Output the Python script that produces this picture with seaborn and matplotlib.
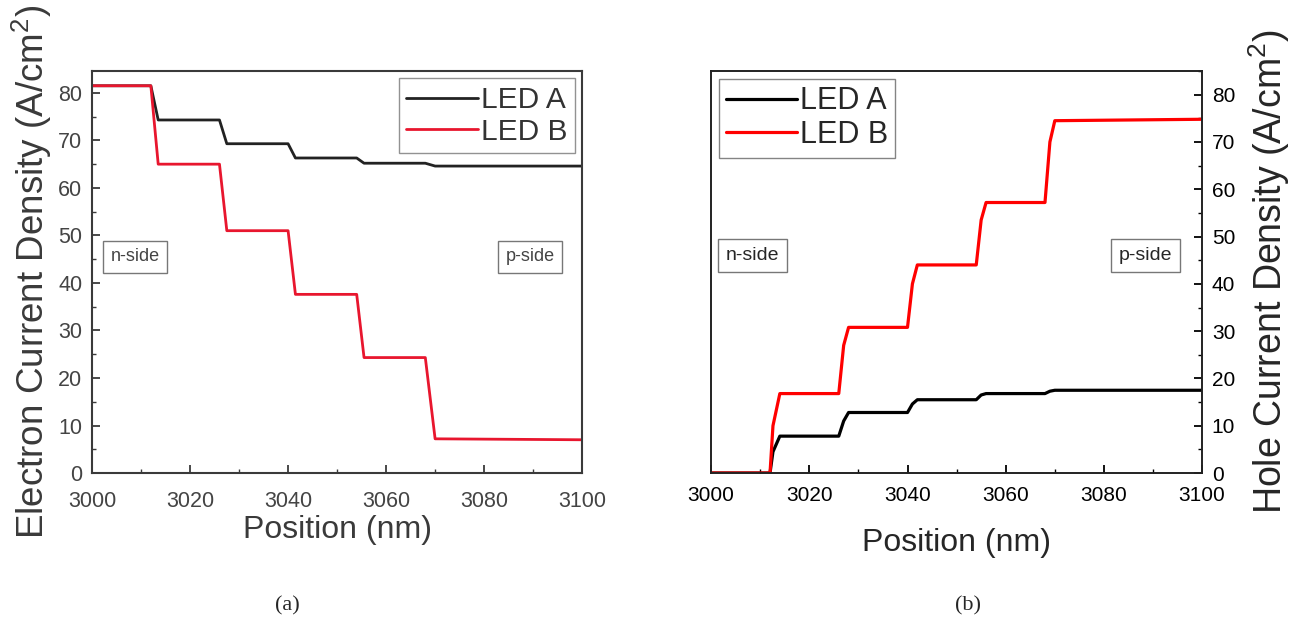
import matplotlib
matplotlib.use("Agg")
import matplotlib.pyplot as plt
from matplotlib.ticker import MultipleLocator
import pandas as pd
import seaborn as sns

# corner points (position in nm)
pos_e = [3000, 3012, 3013.5, 3026, 3027.5, 3040, 3041.5, 3054, 3055.5, 3068, 3070, 3100]
elec_a = [81.5, 81.5, 74.3, 74.3, 69.3, 69.3, 66.3, 66.3, 65.2, 65.2, 64.6, 64.6]
elec_b = [81.5, 81.5, 65.0, 65.0, 51.0, 51.0, 37.6, 37.6, 24.3, 24.3, 7.2, 7.0]

pos_h = [3000, 3012, 3012.6, 3014, 3026, 3027, 3028, 3040, 3041, 3042, 3054, 3055, 3056, 3068, 3069, 3070, 3100]
hole_a = [0, 0, 4.5, 7.8, 7.8, 11.0, 12.8, 12.8, 14.6, 15.5, 15.5, 16.5, 16.8, 16.8, 17.3, 17.5, 17.5]
hole_b = [0, 0, 10.0, 16.8, 16.8, 27.0, 30.8, 30.8, 40.0, 44.0, 44.0, 53.5, 57.2, 57.2, 70.0, 74.5, 74.8]

leds = ["LED A", "LED B"]

df_e = pd.concat([
    pd.DataFrame({"Position": pos_e, "J": elec_a, "LED": leds[0]}),
    pd.DataFrame({"Position": pos_e, "J": elec_b, "LED": leds[1]}),
])
df_h = pd.concat([
    pd.DataFrame({"Position": pos_h, "J": hole_a, "LED": leds[0]}),
    pd.DataFrame({"Position": pos_h, "J": hole_b, "LED": leds[1]}),
])

sns.set_theme(style="ticks")
plt.rcParams["font.family"] = ["Liberation Sans", "DejaVu Sans"]
plt.rcParams["mathtext.fontset"] = "custom"
plt.rcParams["mathtext.rm"] = "Liberation Sans"
plt.rcParams["mathtext.default"] = "regular"

fig = plt.figure(figsize=(13, 6.22), dpi=100)
ax1 = fig.add_axes([0.0708, 0.2395, 0.377, 0.6463])
ax2 = fig.add_axes([0.547, 0.2395, 0.3777, 0.6463])

# (a) electron current
grey = "#3a3a3a"
sns.lineplot(data=df_e, x="Position", y="J", hue="LED", palette=["#222222", "#e8162e"],
             estimator=None, sort=False, lw=2.0, ax=ax1)
ax1.set_xlim(3000, 3100)
ax1.set_ylim(0, 84.6)
ax1.xaxis.set_major_locator(MultipleLocator(20))
ax1.xaxis.set_minor_locator(MultipleLocator(10))
ax1.yaxis.set_major_locator(MultipleLocator(10))
ax1.yaxis.set_minor_locator(MultipleLocator(5))
ax1.tick_params(which="both", direction="in", top=False, right=False, colors=grey,
                labelsize=15.5, labelcolor="#444444")
ax1.tick_params(which="major", length=6, width=1.3, pad=7)
ax1.tick_params(axis="x", which="major", pad=13)
ax1.tick_params(which="minor", length=3, width=1.0)
for s in ax1.spines.values():
    s.set_color(grey)
    s.set_linewidth(1.5)
ax1.set_xlabel("Position (nm)", fontsize=23, color=grey, labelpad=2)
ax1.set_ylabel("Electron Current Density (A/cm$^2$)", fontsize=26.5, color=grey, labelpad=3)
leg1 = ax1.legend(loc="upper right", fontsize=21.5, handlelength=2.4, handletextpad=0.1,
                  borderpad=0.25, labelspacing=0.12, fancybox=False, frameon=True,
                  borderaxespad=0.25)
leg1.get_frame().set_edgecolor("#777777")
leg1.get_frame().set_linewidth(1.0)
for t in leg1.get_texts():
    t.set_color("#333333")
box = dict(boxstyle="square,pad=0.4", fc="white", ec="#777777", lw=1.0)
ax1.text(3008.8, 45.5, "n-side", fontsize=13, color="#444444", ha="center", va="center", bbox=box)
ax1.text(3089.4, 45.5, "p-side", fontsize=13, color="#444444", ha="center", va="center", bbox=box)

# (b) hole current
sns.lineplot(data=df_h, x="Position", y="J", hue="LED", palette=["black", "#ff0000"],
             estimator=None, sort=False, lw=2.3, ax=ax2)
ax2.set_xlim(3000, 3100)
ax2.set_ylim(0, 85)
ax2.xaxis.set_major_locator(MultipleLocator(20))
ax2.xaxis.set_minor_locator(MultipleLocator(10))
ax2.yaxis.set_major_locator(MultipleLocator(10))
ax2.yaxis.set_minor_locator(MultipleLocator(5))
ax2.yaxis.tick_right()
ax2.yaxis.set_label_position("right")
ax2.tick_params(which="both", direction="in", top=False, left=False, colors="black",
                labelsize=15)
ax2.tick_params(which="major", length=6, width=1.3, pad=7)
ax2.tick_params(axis="x", which="major", pad=9)
ax2.tick_params(which="minor", length=3, width=1.0)
for s in ax2.spines.values():
    s.set_color("#222222")
    s.set_linewidth(1.4)
ax2.set_xlabel("Position (nm)", fontsize=23, labelpad=17)
ax2.set_ylabel("Hole Current Density (A/cm$^2$)", fontsize=27, labelpad=8)
leg2 = ax2.legend(loc="upper left", fontsize=22, handlelength=2.3, handletextpad=0.1,
                  borderpad=0.25, labelspacing=0.12, fancybox=False, frameon=True,
                  borderaxespad=0.25)
leg2.get_frame().set_edgecolor("#666666")
leg2.get_frame().set_linewidth(1.0)
ax2.text(3008.4, 46, "n-side", fontsize=14, ha="center", va="center", bbox=box)
ax2.text(3088.4, 46, "p-side", fontsize=14, ha="center", va="center", bbox=box)

fig.text(287 / 1300, 1 - 606 / 622, "(a)", fontsize=16, family="Liberation Serif",
         ha="center", va="center")
fig.text(968 / 1300, 1 - 606 / 622, "(b)", fontsize=16, family="Liberation Serif",
         ha="center", va="center")

fig.savefig("out.png", dpi=100)
